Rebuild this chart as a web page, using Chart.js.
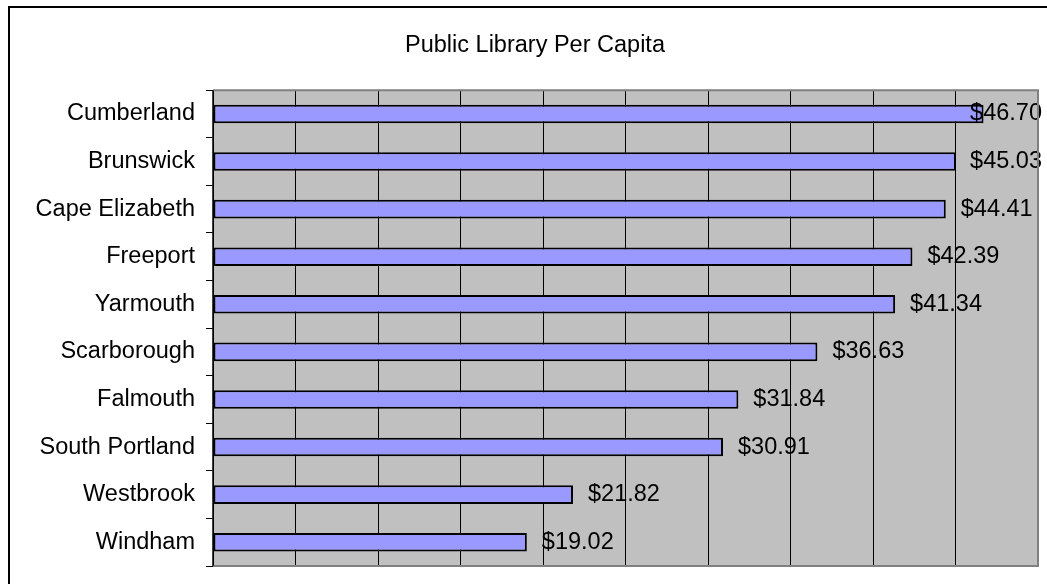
<!DOCTYPE html>
<html>
<head>
<meta charset="utf-8">
<script src="https://cdn.jsdelivr.net/npm/chart.js@4/dist/chart.umd.min.js"></script>
<style>
  html, body { margin: 0; padding: 0; background: #fff; }
  #wrap { width: 1047px; height: 584px; position: relative; }
</style>
</head>
<body>
<div id="wrap"><canvas id="chartCanvas"></canvas></div>
<script>
// Data for chart
var towns = ['Cumberland', 'Brunswick', 'Cape Elizabeth', 'Freeport', 'Yarmouth',
             'Scarborough', 'Falmouth', 'South Portland', 'Westbrook', 'Windham'];
var perCapita = [46.70, 45.03, 44.41, 42.39, 41.34, 36.63, 31.84, 30.91, 21.82, 19.02];
var axisMin = 0;
var axisMax = 50;
var axisStep = 5;

var font = "'Liberation Sans', Arial, sans-serif";

// frame, gray plot background and plot border
var backdrop = {
  id: 'backdrop',
  beforeDraw: function(chart) {
    var c = chart.ctx, a = chart.chartArea;
    c.save();
    c.fillStyle = '#000';
    c.fillRect(8, 6, 2, 600);
    c.fillRect(8, 6, 1100, 2);
    c.fillStyle = '#c0c0c0';
    c.fillRect(a.left, a.top, a.right - a.left, a.bottom - a.top);
    c.restore();
  },
  afterDraw: function(chart) {
    var c = chart.ctx, a = chart.chartArea;
    c.save();
    c.strokeStyle = '#808080';
    c.lineWidth = 2;
    c.beginPath();
    c.moveTo(a.left, a.top);
    c.lineTo(a.right, a.top);
    c.lineTo(a.right, a.bottom);
    c.lineTo(a.left, a.bottom);
    c.stroke();
    c.strokeStyle = '#000';
    c.lineWidth = 1.5;
    c.beginPath();
    c.moveTo(a.left, a.top);
    c.lineTo(a.left, a.bottom);
    c.stroke();
    c.restore();
  }
};

// dollar labels at the end of each bar
var valueLabels = {
  id: 'valueLabels',
  afterDatasetsDraw: function(chart) {
    var c = chart.ctx, a = chart.chartArea;
    var meta = chart.getDatasetMeta(0);
    c.save();
    c.font = '23.5px ' + font;
    c.fillStyle = '#000';
    c.textBaseline = 'middle';
    c.textAlign = 'left';
    meta.data.forEach(function(bar, i) {
      var txt = '$' + perCapita[i].toFixed(2);
      var w = c.measureText(txt).width;
      var x = Math.min(bar.x + 15, a.right + 4 - w);
      c.fillText(txt, x, bar.y);
    });
    c.restore();
  }
};

var ctx = document.getElementById('chartCanvas').getContext('2d');

var chart = new Chart(ctx, {
  type: 'bar',
  data: {
    labels: towns,
    datasets: [{
      label: 'Public Library Per Capita',
      data: perCapita,
      backgroundColor: '#9999ff',
      borderColor: '#000',
      borderWidth: 2,
      borderSkipped: false,
      barPercentage: 0.39,
      categoryPercentage: 1
    }]
  },
  options: {
    indexAxis: 'y',
    responsive: true,
    maintainAspectRatio: false,
    animation: false,
    layout: {
      padding: { left: 32, right: 9, top: 0, bottom: 18 }
    },
    scales: {
      x: {
        min: axisMin,
        max: axisMax,
        ticks: { display: false, stepSize: axisStep },
        border: { display: false },
        grid: {
          drawTicks: false,
          color: function(c) {
            return (c.tick && (c.tick.value === axisMin || c.tick.value === axisMax)) ? 'rgba(0,0,0,0)' : '#000';
          },
          lineWidth: 1
        }
      },
      y: {
        afterFit: function(scale) {
          scale.width = 181;
          scale.paddingTop = 0;
          scale.paddingBottom = 0;
        },
        border: { display: true, color: '#000', width: 1 },
        grid: {
          drawOnChartArea: false,
          offset: true,
          tickLength: 7,
          color: '#000'
        },
        ticks: {
          color: '#000',
          padding: 11,
          font: { family: font, size: 23.5 }
        }
      }
    },
    plugins: {
      legend: { display: false },
      tooltip: { enabled: false },
      title: {
        display: true,
        text: 'Public Library Per Capita',
        color: '#000',
        font: { family: font, size: 23.5, weight: 'normal' },
        padding: { top: 31, bottom: 31 }
      }
    }
  },
  plugins: [backdrop, valueLabels]
});
</script>
</body>
</html>
